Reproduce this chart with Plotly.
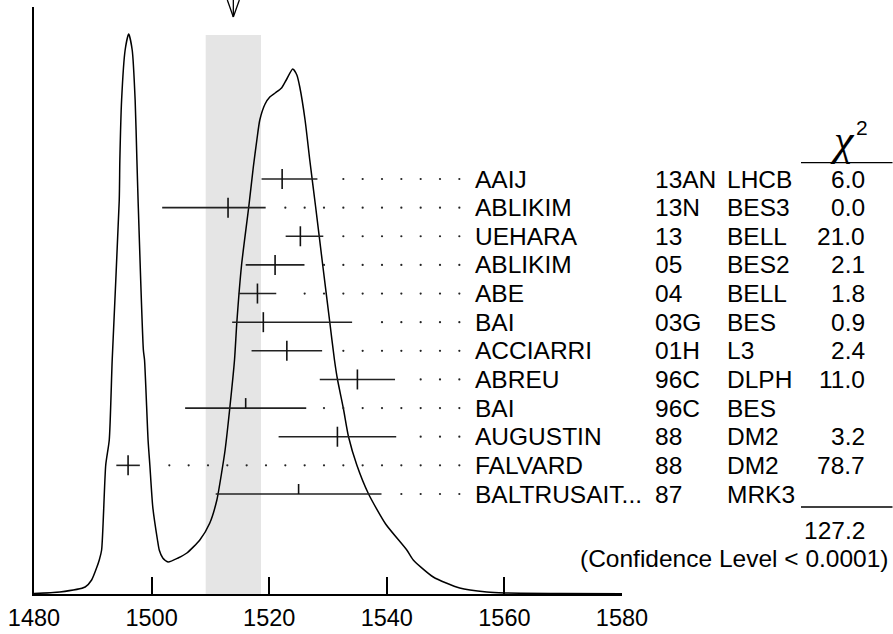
import plotly.graph_objects as go
import math

# ---------------- data ----------------
authors = ["AAIJ", "ABLIKIM", "UEHARA", "ABLIKIM", "ABE", "BAI", "ACCIARRI",
           "ABREU", "BAI", "AUGUSTIN", "FALVARD", "BALTRUSAIT..."]
refs = ["13AN", "13N", "13", "05", "04", "03G", "01H", "96C", "96C", "88", "88", "87"]
expts = ["LHCB", "BES3", "BELL", "BES2", "BELL", "BES", "L3", "DLPH", "BES", "DM2", "DM2", "MRK3"]
chi2 = ["6.0", "0.0", "21.0", "2.1", "1.8", "0.9", "2.4", "11.0", "", "3.2", "78.7", ""]
values = [1522.2, 1513.0, 1525.3, 1521.0, 1518.0, 1519.0, 1523.0, 1535.0, 1516.0, 1531.6, 1496.0, 1525.0]
err_lo = [3.5, 11.2, 2.5, 5.0, 3.2, 5.3, 6.0, 6.4, 10.3, 10.0, 2.0, 14.1]
err_hi = [6.0, 6.4, 3.9, 5.0, 3.2, 15.1, 6.0, 6.4, 10.3, 10.0, 2.0, 14.1]
used = [1, 1, 1, 1, 1, 1, 1, 1, 0, 1, 1, 0]
chi2_total = "127.2"
conf_text = "(Confidence Level < 0.0001)"
fit_mean = 1513.9
fit_err = 4.7

# ideogram curve (mass, height above axis)
curve_x = [1480.0, 1484.4, 1488.7, 1489.8, 1490.7, 1491.1, 1491.5, 1492.2, 1492.8, 1493.3,
           1494.5, 1494.6, 1494.9, 1495.5, 1496.1, 1496.7, 1497.2, 1497.5, 1497.7, 1498.6,
           1498.8, 1499.4, 1499.7, 1500.2, 1501.0, 1501.3, 1501.9, 1502.8, 1504.5, 1506.0,
           1508.2, 1509.9, 1511.1, 1511.9, 1512.5, 1513.3, 1514.1, 1514.5, 1515.3, 1516.5,
           1517.3, 1517.9, 1518.4, 1519.3, 1520.1, 1521.0, 1522.1, 1522.9, 1524.0, 1524.7,
           1525.2, 1526.1, 1526.9, 1527.9, 1529.1, 1530.3, 1531.1, 1531.6, 1532.6, 1533.5,
           1534.9, 1536.9, 1539.8, 1543.4, 1544.5, 1547.9, 1552.4, 1557.0, 1560.0, 1569.5,
           1580.0]
curve_h = [0.5, 2, 7, 14, 27, 34, 44, 129, 154, 234,
           394, 434, 494, 544, 560, 544, 494, 434, 394, 244,
           234, 154, 129, 87, 54, 44, 36, 32, 36, 41,
           54, 71, 94, 121, 144, 186, 234, 272, 329, 386,
           427, 454, 474, 490, 497, 501, 506, 514, 525, 519,
           507, 474, 434, 387, 329, 272, 234, 215, 186, 157,
           129, 100, 70, 44, 34, 17, 6, 2, 1, 0.4,
           0.2]

x_ticks = [1480, 1500, 1520, 1540, 1560, 1580]

# ---------------- layout constants ----------------
W, H = 893, 634
ML, MR, MT, MB = 34, 271, 7, 40
PW = W - ML - MR
PH = H - MT - MB
ROW0_PX = 179.0
ROW_STEP = 28.636
XMIN, XMAX = 1480, 1580
PX_PER_UNIT = PW / (XMAX - XMIN)


def row_from_px(py):
    return (py - ROW0_PX) / ROW_STEP


def paper_x(px):
    return (px - ML) / PW


def paper_y(py):
    return (H - MB - py) / PH


y2_range = [row_from_px(H - MB), row_from_px(MT)]

FONT = "Liberation Sans, Arial, Helvetica, sans-serif"
SERIF = "Liberation Serif, Times New Roman, serif"
fig = go.Figure()

# ideogram
fig.add_trace(go.Scatter(x=curve_x, y=curve_h, mode="lines",
                         line=dict(color="black", width=1.5, shape="spline", smoothing=0.6),
                         hoverinfo="skip", showlegend=False))

# error bars
bx, by = [], []
tx, ty = [], []
dx, dy = [], []
DOT_STEP = 3.288
DOT_GAP = 2.55
DOT_LAST = 22
TICK_H = 10 / ROW_STEP
for i, v in enumerate(values):
    lo = v - err_lo[i]
    hi = v + err_hi[i]
    bx += [lo, hi, None]
    by += [i, i, None]
    tx += [v, v, None]
    ty += [i - TICK_H, (i + TICK_H) if used[i] else i, None]
    k0 = math.ceil((hi + DOT_GAP - XMIN) / DOT_STEP)
    for k in range(k0, DOT_LAST + 1):
        dx.append(XMIN + DOT_STEP * k)
        dy.append(i)

fig.add_trace(go.Scatter(x=bx, y=by, yaxis="y2", mode="lines",
                         line=dict(color="#222222", width=1.6), hoverinfo="skip", showlegend=False))
fig.add_trace(go.Scatter(x=tx, y=ty, yaxis="y2", mode="lines",
                         line=dict(color="#111111", width=1.6), hoverinfo="skip", showlegend=False))
fig.add_trace(go.Scatter(x=dx, y=dy, yaxis="y2", mode="markers",
                         marker=dict(color="#222222", size=2.2, line=dict(width=0)),
                         hoverinfo="skip", showlegend=False))

shapes = []
# fit band
shapes.append(dict(type="rect", xref="x", yref="paper", x0=fit_mean - fit_err, x1=fit_mean + fit_err,
                   y0=0, y1=paper_y(35), fillcolor="#e5e5e5", line=dict(width=0), layer="below"))
# arrow at top
aw = 6 / PX_PER_UNIT
for xs in (fit_mean - aw, fit_mean, fit_mean + aw):
    shapes.append(dict(type="line", xref="x", yref="paper", x0=xs, x1=fit_mean,
                       y0=paper_y(0), y1=paper_y(17), line=dict(color="black", width=1.3)))
# chi2 lines
for py in (162.7, 507):
    shapes.append(dict(type="line", xref="paper", yref="y2", x0=paper_x(801), x1=paper_x(892.5),
                       y0=row_from_px(py), y1=row_from_px(py), line=dict(color="black", width=1.3)))

ann = []
TS = 24.5
for i in range(len(authors)):
    ann.append(dict(x=paper_x(473), y=i, xref="paper", yref="y2", text=authors[i], showarrow=False,
                    xanchor="left", yanchor="middle", font=dict(size=TS, color="black", family=FONT)))
    ann.append(dict(x=paper_x(653), y=i, xref="paper", yref="y2", text=refs[i], showarrow=False,
                    xanchor="left", yanchor="middle", font=dict(size=TS, color="black", family=FONT)))
    ann.append(dict(x=paper_x(725), y=i, xref="paper", yref="y2", text=expts[i], showarrow=False,
                    xanchor="left", yanchor="middle", font=dict(size=TS, color="black", family=FONT)))
    if chi2[i]:
        ann.append(dict(x=paper_x(867), y=i, xref="paper", yref="y2", text=chi2[i], showarrow=False,
                        xanchor="right", yanchor="middle", font=dict(size=TS, color="black", family=FONT)))
ann.append(dict(x=paper_x(867), y=row_from_px(530), xref="paper", yref="y2", text=chi2_total,
                showarrow=False, xanchor="right", yanchor="middle",
                font=dict(size=TS, color="black", family=FONT)))
ann.append(dict(x=paper_x(891), y=row_from_px(558), xref="paper", yref="y2", text=conf_text,
                showarrow=False, xanchor="right", yanchor="middle",
                font=dict(size=TS, color="black", family=FONT)))
ann.append(dict(x=paper_x(842), y=row_from_px(140), xref="paper", yref="y2", text="χ",
                showarrow=False, xanchor="center", yanchor="middle",
                font=dict(size=44, color="black", family=SERIF, style="italic")))
ann.append(dict(x=paper_x(862), y=row_from_px(127), xref="paper", yref="y2", text="2",
                showarrow=False, xanchor="center", yanchor="middle",
                font=dict(size=21, color="black", family=FONT)))

fig.update_layout(
    width=W, height=H,
    margin=dict(l=ML, r=MR, t=MT, b=MB, pad=0, autoexpand=False),
    paper_bgcolor="white", plot_bgcolor="white",
    shapes=shapes, annotations=ann, showlegend=False,
    xaxis=dict(range=[XMIN, XMAX], tickvals=x_ticks, ticktext=[str(t) for t in x_ticks],
               ticks="inside", ticklen=17, tickwidth=1.5, tickcolor="black",
               showline=True, linecolor="black", linewidth=1.5, showgrid=False, zeroline=False,
               tickfont=dict(size=23.5, color="black", family=FONT), ticklabelstandoff=2,
               automargin=False, fixedrange=True),
    yaxis=dict(range=[0, PH], showline=True, linecolor="black", linewidth=1.5, ticks="",
               showticklabels=False, showgrid=False, zeroline=False, automargin=False,
               fixedrange=True),
    yaxis2=dict(range=y2_range, overlaying="y", visible=False, automargin=False, fixedrange=True),
)

fig.write_html("out.html")
